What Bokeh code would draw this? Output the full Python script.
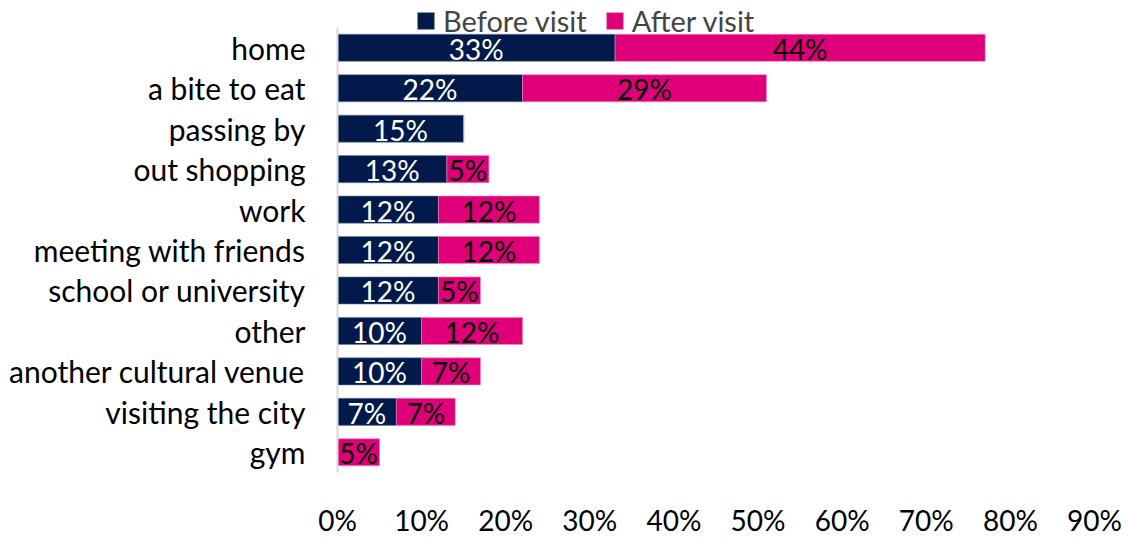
from bokeh.plotting import figure
from bokeh.models import (ColumnDataSource, Legend, LegendItem, NumeralTickFormatter,
                          FixedTicker, LabelSet, Range1d)
from bokeh.core.properties import value
from bokeh.embed import file_html
from bokeh.resources import INLINE

categories = ["home", "a bite to eat", "passing by", "out shopping", "work",
              "meeting with friends", "school or university", "other",
              "another cultural venue", "visiting the city", "gym"]
before = [33, 22, 15, 13, 12, 12, 12, 10, 10, 7, 0]
after = [44, 29, 0, 5, 12, 12, 5, 12, 7, 7, 5]
x_ticks = [0, 10, 20, 30, 40, 50, 60, 70, 80, 90]

NAVY = "#011A4B"
MAGENTA = "#DF0079"
FONT = "Lato"
FS = "28px"

n = len(categories)
ypos = [n - 1 - i for i in range(n)]
b = [v / 100 for v in before]
a = [v / 100 for v in after]
src = ColumnDataSource(dict(
    y=ypos,
    b0=[0] * n, b1=b,
    a0=b, a1=[x + w for x, w in zip(b, a)],
    bmid=[x / 2 for x in b],
    amid=[x + w / 2 for x, w in zip(b, a)],
    blab=[f"{v}%" if v > 0 else "" for v in before],
    alab=[f"{v}%" if v > 0 else "" for v in after],
))

p = figure(width=1129, height=539, x_range=(0, 0.9), y_range=Range1d(-0.5, n - 0.5 + 0.67),
           output_backend="svg", toolbar_location=None,
           min_border_left=337, min_border_right=35, min_border_top=0, min_border_bottom=52)
p.outline_line_color = None
p.grid.grid_line_color = None
p.background_fill_color = "white"

rb = p.hbar(y="y", left="b0", right="b1", height=0.67, source=src,
            fill_color=NAVY, line_color="#6F7FA0", line_width=0.6)
ra = p.hbar(y="y", left="a0", right="a1", height=0.67, source=src,
            fill_color=MAGENTA, line_color="#F08CC0", line_width=0.6)

p.add_layout(LabelSet(x="bmid", y="y", text="blab", source=src, text_align="center",
                      text_baseline="middle", text_color="white", text_font=value(FONT),
                      text_font_size=value(FS), y_offset=-1))
p.add_layout(LabelSet(x="amid", y="y", text="alab", source=src, text_align="center",
                      text_baseline="middle", text_color="black", text_font=value(FONT),
                      text_font_size=value(FS), y_offset=-1))

p.xaxis.ticker = FixedTicker(ticks=[t / 100 for t in x_ticks])
p.xaxis.formatter = NumeralTickFormatter(format="0%")
p.xaxis.axis_line_color = None
p.xaxis.major_tick_line_color = None
p.xaxis.minor_tick_line_color = None
p.xaxis.major_label_text_font = FONT
p.xaxis.major_label_text_font_size = FS
p.xaxis.major_label_text_color = "black"
p.xaxis.major_label_standoff = 24

p.yaxis.ticker = FixedTicker(ticks=ypos)
p.yaxis.major_label_overrides = {yv: c for yv, c in zip(ypos, categories)}
p.yaxis.bounds = (-0.5, n - 0.5)
p.yaxis.axis_line_color = "#D9D9D9"
p.yaxis.axis_line_width = 2
p.yaxis.major_tick_line_color = None
p.yaxis.minor_tick_line_color = None
p.yaxis.major_label_text_font = FONT
p.yaxis.major_label_text_font_size = "30px"
p.yaxis.major_label_text_color = "black"
p.yaxis.major_label_standoff = 26

legend = Legend(items=[LegendItem(label="Before visit", renderers=[rb]),
                       LegendItem(label="After visit", renderers=[ra])],
                location=(78, 434), orientation="horizontal",
                glyph_width=21, glyph_height=21, label_standoff=7, spacing=17,
                padding=0, margin=0, border_line_color=None, background_fill_alpha=0,
                label_text_font=FONT, label_text_font_size="29px", label_height=26)
p.add_layout(legend, "center")

open("out.html", "w").write(file_html(p, INLINE))
